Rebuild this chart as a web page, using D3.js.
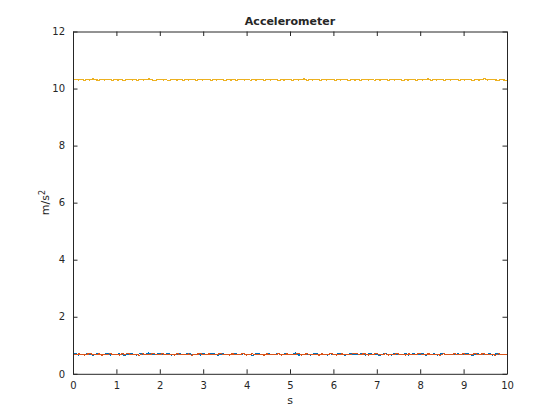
<!DOCTYPE html>
<html><head><meta charset="utf-8">
<script src="https://cdn.jsdelivr.net/npm/d3@7"></script>
<style>body{margin:0;background:#fff}svg{display:block}text{font-family:"DejaVu Sans",sans-serif;fill:#262626}</style>
</head><body><svg id="c" width="560" height="420"></svg>
<script>
const title = "Accelerometer";
const xLabel = "s";
const xTicks = [0,1,2,3,4,5,6,7,8,9,10];
const yTicks = [0,2,4,6,8,10,12];
const seriesColors = ["#0072BD","#D95319","#EDB120"];
const accX = [0.68,0.70,0.66,0.69,0.67,0.71,0.68,0.65,0.69,0.70,0.67,0.68,0.72,0.66,0.69,0.68,0.70,0.67,0.64,0.69,0.71,0.68,0.66,0.70,0.69,0.67,0.73,0.68,0.66,0.69,0.70,0.67,0.68,0.71,0.65,0.69,0.68,0.70,0.66,0.69,0.72,0.67,0.68,0.69,0.66,0.70,0.68,0.67,0.71,0.69,0.65,0.68,0.70,0.67,0.69,0.68,0.72,0.66,0.69,0.70,0.67,0.68,0.64,0.69,0.71,0.68,0.66,0.70,0.69,0.67,0.68,0.71,0.66,0.69,0.70,0.67,0.68,0.73,0.65,0.69,0.68,0.70,0.66,0.69,0.71,0.67,0.68,0.69,0.66,0.70,0.68,0.67,0.72,0.69,0.65,0.68,0.70,0.67,0.69,0.68,0.71,0.66,0.69,0.70,0.67,0.68,0.64,0.69,0.71,0.68,0.66,0.70,0.69,0.67,0.68,0.71,0.66,0.69,0.70,0.67,0.68,0.72,0.65,0.69,0.68,0.70,0.66,0.69,0.71,0.67,0.68,0.69,0.66,0.70,0.68,0.67,0.72,0.69,0.65,0.68,0.70,0.67,0.69,0.68,0.71,0.66,0.69,0.70,0.67,0.68,0.69];
const accY = [0.69,0.67,0.70,0.68,0.66,0.69,0.71,0.67,0.68,0.70,0.65,0.69,0.68,0.71,0.67,0.69,0.66,0.70,0.68,0.72,0.67,0.69,0.68,0.65,0.70,0.68,0.67,0.69,0.71,0.66,0.68,0.70,0.67,0.69,0.68,0.66,0.71,0.68,0.69,0.67,0.70,0.65,0.68,0.69,0.71,0.67,0.68,0.70,0.66,0.69,0.68,0.72,0.67,0.69,0.66,0.70,0.68,0.67,0.69,0.71,0.66,0.68,0.70,0.67,0.69,0.68,0.65,0.70,0.68,0.69,0.67,0.71,0.66,0.68,0.70,0.67,0.69,0.68,0.72,0.66,0.69,0.70,0.67,0.68,0.69,0.65,0.70,0.68,0.67,0.71,0.69,0.66,0.68,0.70,0.67,0.69,0.68,0.71,0.72,0.67,0.69,0.70,0.66,0.68,0.69,0.71,0.67,0.68,0.70,0.66,0.69,0.68,0.72,0.67,0.69,0.66,0.70,0.68,0.67,0.69,0.71,0.66,0.68,0.70,0.67,0.69,0.68,0.65,0.70,0.68,0.69,0.67,0.71,0.66,0.68,0.70,0.67,0.69,0.68,0.72,0.66,0.69,0.70,0.67,0.68,0.69,0.65,0.70,0.68,0.67,0.69];
const accZ = [10.31,10.33,10.30,10.32,10.29,10.31,10.30,10.34,10.31,10.29,10.32,10.30,10.31,10.33,10.29,10.31,10.30,10.32,10.28,10.31,10.33,10.30,10.31,10.29,10.32,10.30,10.31,10.34,10.30,10.29,10.31,10.32,10.30,10.31,10.28,10.32,10.31,10.30,10.33,10.29,10.31,10.30,10.32,10.31,10.29,10.33,10.30,10.31,10.32,10.29,10.31,10.30,10.33,10.31,10.28,10.32,10.30,10.31,10.29,10.32,10.31,10.30,10.33,10.29,10.31,10.30,10.32,10.31,10.29,10.33,10.30,10.31,10.32,10.28,10.31,10.30,10.33,10.31,10.29,10.32,10.30,10.31,10.34,10.29,10.31,10.30,10.32,10.31,10.29,10.33,10.30,10.31,10.32,10.29,10.31,10.30,10.33,10.31,10.28,10.32,10.30,10.31,10.29,10.32,10.31,10.30,10.33,10.29,10.31,10.30,10.32,10.31,10.29,10.33,10.30,10.31,10.32,10.28,10.31,10.30,10.33,10.31,10.29,10.32,10.30,10.31,10.34,10.29,10.31,10.30,10.32,10.31,10.29,10.33,10.30,10.31,10.32,10.29,10.31,10.30,10.33,10.31,10.28,10.32,10.30,10.31,10.35,10.30,10.31,10.32,10.30,10.29,10.31,10.30,10.29];

const series = [accX, accY, accZ];
const L = 73, R = 507, T = 31.5, B = 373.8;
const svg = d3.select("#c");
const x = d3.scaleLinear().domain([0,10]).range([L,R]);
const y = d3.scaleLinear().domain([0,12]).range([B,T]);
const ink = "#262626";

// data lines (sample times evenly spaced over 10 s)
series.forEach((vals,k)=>{
  const n = vals.length;
  const line = d3.line().x((d,i)=>x(i*10/(n-1))).y(d=>y(d));
  svg.append("path").datum(vals).attr("d",line).attr("fill","none")
    .attr("stroke",seriesColors[k]).attr("stroke-width",1.2)
    .attr("shape-rendering","crispEdges");
});

// axes
const fmt = d3.format("d");
svg.append("g").attr("transform",`translate(0,${B})`)
  .call(d3.axisBottom(x).tickValues(xTicks).tickFormat(fmt).tickSizeInner(-4.5).tickSizeOuter(0).tickPadding(8))
  .call(g=>{g.select(".domain").attr("stroke",ink);g.selectAll("line").attr("stroke",ink);g.selectAll("text").attr("font-size",10).attr("font-family","DejaVu Sans").attr("fill",ink);});
svg.append("g").attr("transform",`translate(0,${T})`)
  .call(d3.axisTop(x).tickValues(xTicks).tickFormat("").tickSizeInner(-4.5).tickSizeOuter(0))
  .call(g=>{g.select(".domain").attr("stroke",ink);g.selectAll("line").attr("stroke",ink);});
svg.append("g").attr("transform",`translate(${L},0)`)
  .call(d3.axisLeft(y).tickValues(yTicks).tickFormat(fmt).tickSizeInner(-4.5).tickSizeOuter(0).tickPadding(8))
  .call(g=>{g.select(".domain").attr("stroke",ink);g.selectAll("line").attr("stroke",ink);g.selectAll("text").attr("font-size",10).attr("font-family","DejaVu Sans").attr("fill",ink);});
svg.append("g").attr("transform",`translate(${R},0)`)
  .call(d3.axisRight(y).tickValues(yTicks).tickFormat("").tickSizeInner(-4.5).tickSizeOuter(0))
  .call(g=>{g.select(".domain").attr("stroke",ink);g.selectAll("line").attr("stroke",ink);});

// title and labels
svg.append("text").attr("x",(L+R)/2).attr("y",25).attr("text-anchor","middle")
  .attr("font-size",11).attr("font-weight","bold").text(title);
svg.append("text").attr("x",(L+R)/2).attr("y",404).attr("text-anchor","middle")
  .attr("font-size",11).text(xLabel);
const yl = svg.append("text").attr("transform",`translate(49,${(T+B)/2}) rotate(-90)`)
  .attr("text-anchor","middle").attr("font-size",11);
yl.append("tspan").text("m/s");
yl.append("tspan").attr("dy",-4).attr("font-size",8).text("2");
</script></body></html>
